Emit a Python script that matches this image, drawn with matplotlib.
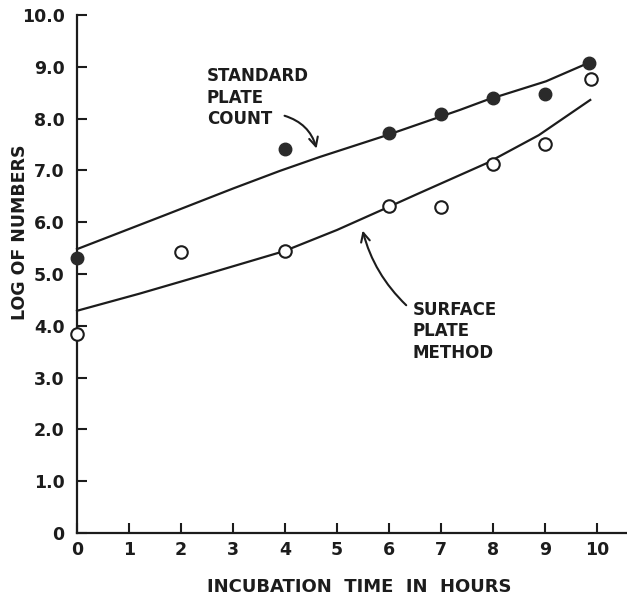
import matplotlib
matplotlib.use('Agg')
import matplotlib.pyplot as plt

# measured points
hours_std = [0, 4, 6, 7, 8, 9, 9.85]
log_std = [5.31, 7.41, 7.72, 8.08, 8.39, 8.48, 9.07]
hours_surf = [0, 2, 4, 6, 7, 8, 9, 9.88]
log_surf = [3.84, 5.42, 5.44, 6.31, 6.29, 7.13, 7.51, 8.76]

# hand-drawn fitted curves
curve_std_x = [0, 1.7, 3.0, 3.9, 4.67, 5.96, 7.37, 7.88, 9.02, 9.87]
curve_std_y = [5.48, 6.14, 6.65, 6.99, 7.26, 7.68, 8.17, 8.36, 8.72, 9.09]
curve_surf_x = [0, 1.2, 2.5, 3.98, 5.0, 5.96, 6.58, 7.88, 8.88, 9.87]
curve_surf_y = [4.29, 4.62, 5.0, 5.44, 5.85, 6.28, 6.56, 7.14, 7.68, 8.36]

x_ticks = list(range(11))
y_ticks = list(range(11))
y_ticklabels = ['0'] + [f'{v}.0' for v in range(1, 11)]

plt.rcParams.update({
    "font.family": "DejaVu Sans",
    "font.size": 12,
    "font.weight": "bold",
})
ink = '#1c1c1c'

fig = plt.figure(figsize=(6.27, 5.98), dpi=100)
W, H = 627, 598
x0, y0, x1, y1 = 77, 533, 627, 15
ax = fig.add_axes([x0 / W, (H - y0) / H, (x1 - x0) / W, (y0 - y1) / H])
ax.set_xlim(0, (x1 - x0) / 52.0)
ax.set_ylim(0, 10)

for s in ['top', 'right']:
    ax.spines[s].set_visible(False)
for s in ['left', 'bottom']:
    ax.spines[s].set_linewidth(1.6)
    ax.spines[s].set_color(ink)

ax.set_xticks(x_ticks)
ax.set_xticklabels([str(v) for v in x_ticks])
ax.set_yticks(y_ticks)
ax.set_yticklabels(y_ticklabels)
ax.tick_params(direction='in', length=7, width=1.5, color=ink, labelcolor=ink, labelsize=12.5)
ax.tick_params(axis='x', pad=6)
ax.tick_params(axis='y', pad=9)

ax.plot(curve_std_x, curve_std_y, color=ink, lw=1.6, clip_on=False)
ax.plot(curve_surf_x, curve_surf_y, color=ink, lw=1.6, clip_on=False)
ax.plot(hours_std, log_std, 'o', color='#2a2a2a', ms=9, clip_on=False, zorder=5)
ax.plot(hours_surf, log_surf, 'o', mfc='white', mec=ink, mew=1.5, ms=9, clip_on=False, zorder=5)

ax.text(2.5, 8.4, 'STANDARD\nPLATE\nCOUNT', ha='left', va='center', color=ink,
        linespacing=1.25)
ax.annotate('', xy=(4.62, 7.37), xytext=(3.94, 8.07),
            arrowprops=dict(arrowstyle='->', color=ink, lw=1.5,
                            connectionstyle='arc3,rad=-0.3', mutation_scale=16))

ax.text(6.45, 3.89, 'SURFACE\nPLATE\nMETHOD', ha='left', va='center', color=ink,
        linespacing=1.25)
ax.annotate('', xy=(5.48, 5.89), xytext=(6.37, 4.36),
            arrowprops=dict(arrowstyle='->', color=ink, lw=1.5,
                            connectionstyle='arc3,rad=-0.15', mutation_scale=16))

fig.text(359 / W, 1 - 587 / H, 'INCUBATION  TIME  IN  HOURS', ha='center', va='center',
         color=ink, fontsize=13)
fig.text(20 / W, 1 - 232 / H, 'LOG OF NUMBERS', ha='center', va='center',
         rotation=90, color=ink, fontsize=12.5)

fig.savefig('out.png', dpi=100)
